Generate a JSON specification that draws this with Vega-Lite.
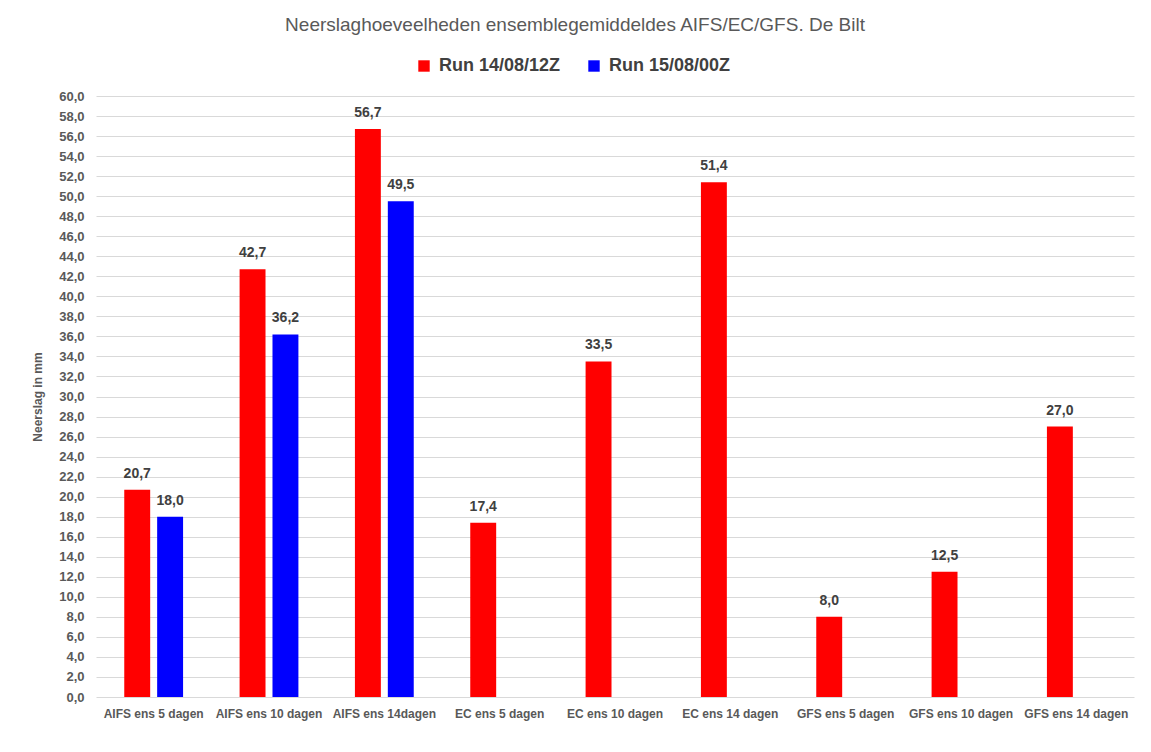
{
  "$schema": "https://vega.github.io/schema/vega-lite/v6.json",
  "description": "Neerslaghoeveelheden ensemblegemiddeldes AIFS/EC/GFS, De Bilt",
  "background": "white",
  "autosize": "none",
  "padding": {"left": 96, "top": 96, "right": 17, "bottom": 55},
  "width": 1038,
  "height": 601,
  "title": {
    "text": "Neerslaghoeveelheden ensemblegemiddeldes AIFS/EC/GFS. De Bilt",
    "anchor": "middle",
    "dx": -40,
    "offset": 22,
    "font": "Liberation Sans, Arial, sans-serif",
    "fontSize": 19,
    "fontWeight": "normal",
    "color": "#595959"
  },
  "config": {
    "locale": {
      "number": {"decimal": ",", "thousands": ".", "grouping": [3], "currency": ["€", ""]}
    },
    "view": {"stroke": null},
    "font": "Liberation Sans, Arial, sans-serif"
  },
  "data": {
    "values": [
      {"Categorie": "AIFS ens 5 dagen", "Run": "Run 14/08/12Z", "Neerslag": 20.7},
      {"Categorie": "AIFS ens 5 dagen", "Run": "Run 15/08/00Z", "Neerslag": 18.0},
      {"Categorie": "AIFS ens 10 dagen", "Run": "Run 14/08/12Z", "Neerslag": 42.7},
      {"Categorie": "AIFS ens 10 dagen", "Run": "Run 15/08/00Z", "Neerslag": 36.2},
      {"Categorie": "AIFS ens 14dagen", "Run": "Run 14/08/12Z", "Neerslag": 56.7},
      {"Categorie": "AIFS ens 14dagen", "Run": "Run 15/08/00Z", "Neerslag": 49.5},
      {"Categorie": "EC ens 5 dagen", "Run": "Run 14/08/12Z", "Neerslag": 17.4},
      {"Categorie": "EC ens 10 dagen", "Run": "Run 14/08/12Z", "Neerslag": 33.5},
      {"Categorie": "EC ens 14 dagen", "Run": "Run 14/08/12Z", "Neerslag": 51.4},
      {"Categorie": "GFS ens 5 dagen", "Run": "Run 14/08/12Z", "Neerslag": 8.0},
      {"Categorie": "GFS ens 10 dagen", "Run": "Run 14/08/12Z", "Neerslag": 12.5},
      {"Categorie": "GFS ens 14 dagen", "Run": "Run 14/08/12Z", "Neerslag": 27.0}
    ]
  },
  "encoding": {
    "x": {
      "field": "Categorie",
      "type": "nominal",
      "sort": null,
      "scale": {"paddingInner": 0.49, "paddingOuter": 0.245},
      "axis": {
        "title": null,
        "labelAngle": 0,
        "labelFontSize": 12,
        "labelFontWeight": "bold",
        "labelColor": "#595959",
        "labelPadding": 11,
        "ticks": false,
        "domain": false
      }
    },
    "xOffset": {
      "field": "Run",
      "type": "nominal",
      "scale": {"domain": ["Run 14/08/12Z", "Run 15/08/00Z"], "paddingInner": 0.212, "paddingOuter": 0}
    },
    "y": {
      "field": "Neerslag",
      "type": "quantitative",
      "scale": {"domain": [0, 60], "nice": false},
      "axis": {
        "title": "Neerslag in mm",
        "titleFontSize": 12,
        "titleFontWeight": "bold",
        "titleColor": "#595959",
        "titlePadding": 14,
        "values": [0, 2, 4, 6, 8, 10, 12, 14, 16, 18, 20, 22, 24, 26, 28, 30, 32, 34, 36, 38, 40, 42, 44, 46, 48, 50, 52, 54, 56, 58, 60],
        "format": ".1f",
        "labelFontSize": 13,
        "labelFontWeight": "bold",
        "labelColor": "#595959",
        "labelPadding": 12,
        "ticks": false,
        "domain": false,
        "gridColor": "#d9d9d9",
        "gridWidth": 1
      }
    }
  },
  "layer": [
    {
      "mark": {"type": "bar"},
      "encoding": {
        "color": {
          "field": "Run",
          "type": "nominal",
          "scale": {"domain": ["Run 14/08/12Z", "Run 15/08/00Z"], "range": ["#ff0000", "#0000ff"]},
          "legend": {
            "title": null,
            "orient": "none",
            "direction": "horizontal",
            "legendX": 319,
            "legendY": -39,
            "symbolType": "square",
            "symbolSize": 130,
            "symbolStrokeWidth": 0,
            "labelFontSize": 18,
            "labelFontWeight": "bold",
            "labelColor": "#404040",
            "labelOffset": 6,
            "columnPadding": 24
          }
        }
      }
    },
    {
      "mark": {
        "type": "text",
        "baseline": "bottom",
        "dy": -9,
        "fontSize": 14,
        "fontWeight": "bold",
        "color": "#404040"
      },
      "encoding": {
        "text": {"field": "Neerslag", "type": "quantitative", "format": ".1f"}
      }
    }
  ]
}
